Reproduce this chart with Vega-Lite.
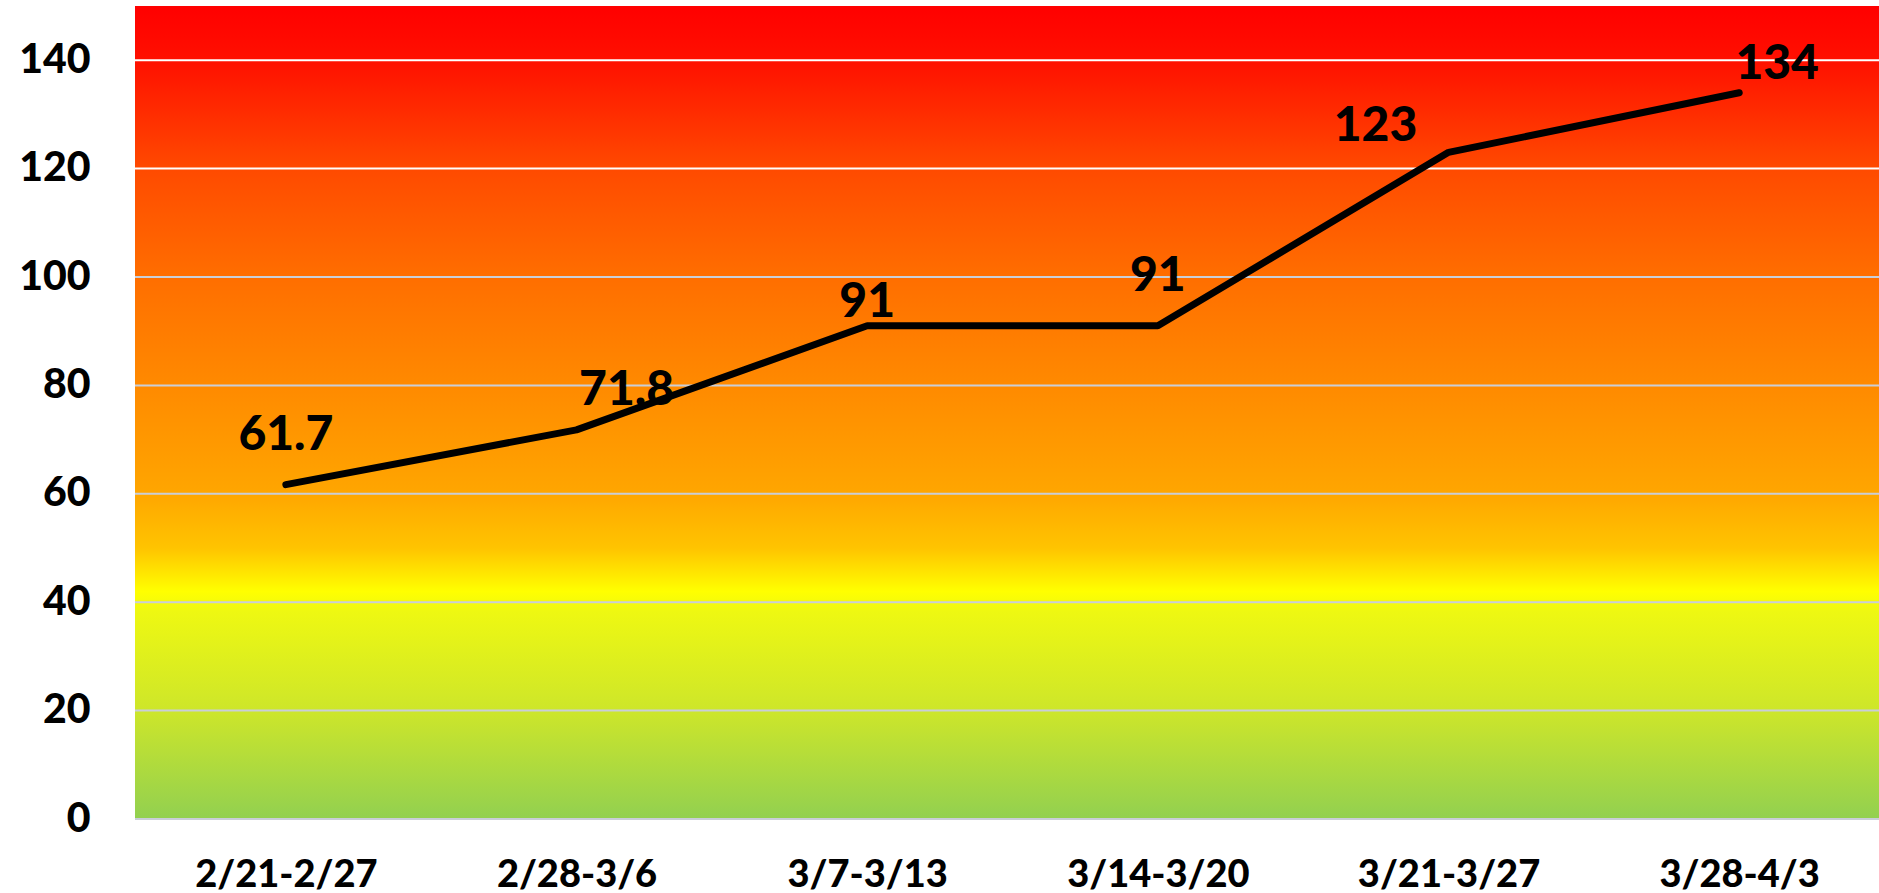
{
  "$schema": "https://vega.github.io/schema/vega-lite/v6.json",
  "width": 1744,
  "height": 813,
  "autosize": {"type": "none"},
  "padding": {"left": 135, "top": 6, "right": 0, "bottom": 74},
  "background": "white",
  "config": {"view": {"stroke": null}, "font": "Lato"},
  "datasets": {
    "weeks": [
      {"week": "2/21-2/27", "value": 61.7, "label": "61.7"},
      {"week": "2/28-3/6", "value": 71.8, "label": "71.8"},
      {"week": "3/7-3/13", "value": 91, "label": "91"},
      {"week": "3/14-3/20", "value": 91, "label": "91"},
      {"week": "3/21-3/27", "value": 123, "label": "123"},
      {"week": "3/28-4/3", "value": 134, "label": "134"}
    ],
    "grid": [{"v": 0}, {"v": 20}, {"v": 40}, {"v": 60}, {"v": 80}, {"v": 100}, {"v": 120}, {"v": 140}],
    "band": [{"lo": 0, "hi": 150}]
  },
  "layer": [
    {
      "data": {"name": "band"},
      "mark": {
        "type": "rect",
        "fill": {
          "gradient": "linear", "x1": 0, "y1": 0, "x2": 0, "y2": 1,
          "stops": [
            {"offset": 0, "color": "#ff0000"},
            {"offset": 0.067, "color": "#ff1000"},
            {"offset": 0.2, "color": "#ff4a00"},
            {"offset": 0.333, "color": "#ff6e00"},
            {"offset": 0.467, "color": "#ff8a00"},
            {"offset": 0.6, "color": "#ffa600"},
            {"offset": 0.667, "color": "#ffc400"},
            {"offset": 0.72, "color": "#ffff00"},
            {"offset": 0.745, "color": "#eef812"},
            {"offset": 0.867, "color": "#cde62a"},
            {"offset": 1, "color": "#92d050"}
          ]
        }
      },
      "encoding": {
        "x": {"value": 0},
        "x2": {"value": "width"},
        "y": {
          "field": "lo", "type": "quantitative", "scale": {"domain": [0, 150], "nice": false},
          "axis": {"title": null, "values": [0, 20, 40, 60, 80, 100, 120, 140], "grid": false, "domain": false, "ticks": false, "labelFontSize": 41, "labelFontWeight": 900, "labelColor": "black", "labelPadding": 45}
        },
        "y2": {"field": "hi"}
      }
    },
    {
      "data": {"name": "grid"},
      "mark": {"type": "rule", "strokeWidth": 2},
      "encoding": {
        "y": {"field": "v", "type": "quantitative"},
        "color": {"condition": {"test": "datum.v >= 120", "value": "#ffffff"}, "value": "#c9ced8"}
      }
    },
    {
      "data": {"name": "weeks"},
      "mark": {"type": "line", "color": "black", "strokeWidth": 7, "strokeCap": "round", "strokeJoin": "round"},
      "encoding": {
        "x": {
          "field": "week", "type": "ordinal", "sort": null,
          "scale": {"type": "point", "paddingOuter": 0.483, "align": 0.519},
          "axis": {"title": null, "labelAngle": 0, "labelFontSize": 38, "labelFontWeight": 900, "labelColor": "black", "labelPadding": 37, "labelLimit": 0, "domain": false, "ticks": false}
        },
        "y": {"field": "value", "type": "quantitative"}
      }
    },
    {
      "data": {"name": "weeks"},
      "transform": [{"filter": {"field": "week", "oneOf": ["2/21-2/27", "3/14-3/20"]}}],
      "mark": {"type": "text", "fontSize": 48, "fontWeight": 900, "color": "black", "align": "center", "baseline": "alphabetic", "dx": 0, "dy": -35},
      "encoding": {"x": {"field": "week", "type": "ordinal", "sort": null}, "y": {"field": "value", "type": "quantitative"}, "text": {"field": "label"}}
    },
    {
      "data": {"name": "weeks"},
      "transform": [{"filter": {"field": "week", "equal": "2/28-3/6"}}],
      "mark": {"type": "text", "fontSize": 48, "fontWeight": 900, "color": "black", "align": "center", "baseline": "alphabetic", "dx": 50, "dy": -25},
      "encoding": {"x": {"field": "week", "type": "ordinal", "sort": null}, "y": {"field": "value", "type": "quantitative"}, "text": {"field": "label"}}
    },
    {
      "data": {"name": "weeks"},
      "transform": [{"filter": {"field": "week", "equal": "3/7-3/13"}}],
      "mark": {"type": "text", "fontSize": 48, "fontWeight": 900, "color": "black", "align": "center", "baseline": "alphabetic", "dx": 0, "dy": -9},
      "encoding": {"x": {"field": "week", "type": "ordinal", "sort": null}, "y": {"field": "value", "type": "quantitative"}, "text": {"field": "label"}}
    },
    {
      "data": {"name": "weeks"},
      "transform": [{"filter": {"field": "week", "equal": "3/21-3/27"}}],
      "mark": {"type": "text", "fontSize": 48, "fontWeight": 900, "color": "black", "align": "center", "baseline": "alphabetic", "dx": -73, "dy": -11},
      "encoding": {"x": {"field": "week", "type": "ordinal", "sort": null}, "y": {"field": "value", "type": "quantitative"}, "text": {"field": "label"}}
    },
    {
      "data": {"name": "weeks"},
      "transform": [{"filter": {"field": "week", "equal": "3/28-4/3"}}],
      "mark": {"type": "text", "fontSize": 48, "fontWeight": 900, "color": "black", "align": "center", "baseline": "alphabetic", "dx": 38, "dy": -14},
      "encoding": {"x": {"field": "week", "type": "ordinal", "sort": null}, "y": {"field": "value", "type": "quantitative"}, "text": {"field": "label"}}
    }
  ]
}
